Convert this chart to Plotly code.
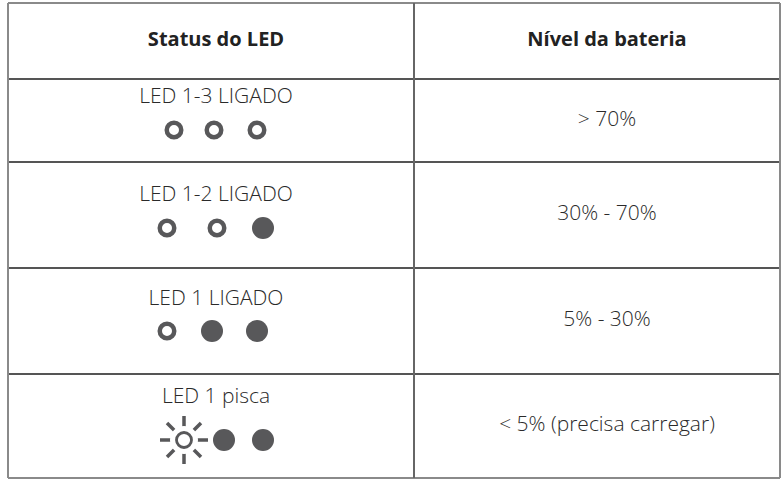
import plotly.graph_objects as go

# ---- data ----
headers = ["Status do LED", "Nível da bateria"]
led_status = ["LED 1-3 LIGADO", "LED 1-2 LIGADO", "LED 1 LIGADO", "LED 1 pisca"]
battery_level = ["> 70%", "30% - 70%", "5% - 30%", "< 5% (precisa carregar)"]
led_states = [
    ["on", "on", "on"],
    ["on", "on", "off"],
    ["on", "off", "off"],
    ["blink", "off", "off"],
]

# ---- layout geometry (pixel space) ----
W, H = 781, 480
x_left, x_mid, x_right = 8, 414, 780
row_lines = [3, 79, 162, 268, 374, 478]
label_y = [98, 196, 300, 398]
icon_y = [130, 228, 331, 440]
icon_x = [[174, 214, 257], [167, 217, 263], [167, 212, 257], [184, 224, 263]]
text_c = [216, 607]

row_c = [(row_lines[i + 1] + row_lines[i + 2]) / 2 for i in range(len(led_status))]
head_c = (row_lines[0] + row_lines[1]) / 2

ICON = "#58585a"
FONT = "Open Sans"

fig = go.Figure()

# grid lines
shapes = []
for i, y in enumerate(row_lines):
    outer = i in (0, len(row_lines) - 1)
    shapes.append(dict(type="line", x0=x_left, x1=x_right, y0=y, y1=y,
                       line=dict(color="#8a8a8a" if outer else "#555555", width=2)))
for x, outer in [(x_left, True), (x_mid, False), (x_right, True)]:
    shapes.append(dict(type="line", x0=x, x1=x, y0=row_lines[0], y1=row_lines[-1],
                       line=dict(color="#8a8a8a" if outer else "#666666", width=2)))

# headers
fig.add_trace(go.Scatter(
    x=text_c, y=[head_c, head_c], text=headers, mode="text",
    textfont=dict(family=FONT, size=20, color="#222222", weight="bold"),
    hoverinfo="skip"))

# status labels
fig.add_trace(go.Scatter(
    x=[text_c[0]] * len(led_status), y=label_y, text=led_status, mode="text",
    textfont=dict(family=FONT, size=21, color="#2a2a2a", weight=300),
    hoverinfo="skip"))

# battery levels
fig.add_trace(go.Scatter(
    x=[text_c[1]] * len(battery_level), y=row_c, text=battery_level, mode="text",
    textfont=dict(family=FONT, size=21, color="#2a2a2a", weight=300),
    hoverinfo="skip"))

# icons
on_x, on_y, off_x, off_y, bl_x, bl_y = [], [], [], [], [], []
for r, states in enumerate(led_states):
    for c, s in enumerate(states):
        if s == "on":
            on_x.append(icon_x[r][c]); on_y.append(icon_y[r])
        elif s == "off":
            off_x.append(icon_x[r][c]); off_y.append(icon_y[r])
        else:
            bl_x.append(icon_x[r][c]); bl_y.append(icon_y[r])

fig.add_trace(go.Scatter(x=on_x, y=on_y, mode="markers", hoverinfo="skip",
                         marker=dict(symbol="circle-open", size=14.5, color=ICON,
                                     line=dict(color=ICON, width=4.5))))
fig.add_trace(go.Scatter(x=off_x, y=off_y, mode="markers", hoverinfo="skip",
                         marker=dict(symbol="circle", size=22, color=ICON,
                                     line=dict(width=0))))
# blinking LED (sun)
fig.add_trace(go.Scatter(x=bl_x, y=bl_y, mode="markers", hoverinfo="skip",
                         marker=dict(symbol="asterisk-open", size=40, color=ICON,
                                     line=dict(color=ICON, width=3.5))))
fig.add_trace(go.Scatter(x=bl_x, y=bl_y, mode="markers", hoverinfo="skip",
                         marker=dict(symbol="circle", size=28, color="white",
                                     line=dict(width=0))))
fig.add_trace(go.Scatter(x=bl_x, y=bl_y, mode="markers", hoverinfo="skip",
                         marker=dict(symbol="circle-open", size=15, color=ICON,
                                     line=dict(color=ICON, width=2.8))))

fig.update_layout(
    width=W, height=H, margin=dict(l=0, r=0, t=0, b=0),
    paper_bgcolor="white", plot_bgcolor="white", showlegend=False,
    xaxis=dict(range=[0, W], visible=False, fixedrange=True),
    yaxis=dict(range=[H, 0], visible=False, fixedrange=True),
    shapes=shapes,
)

fig.write_html("out.html", config={"displayModeBar": False},
               post_script="document.body.style.margin='0';document.body.style.overflow='hidden';")
